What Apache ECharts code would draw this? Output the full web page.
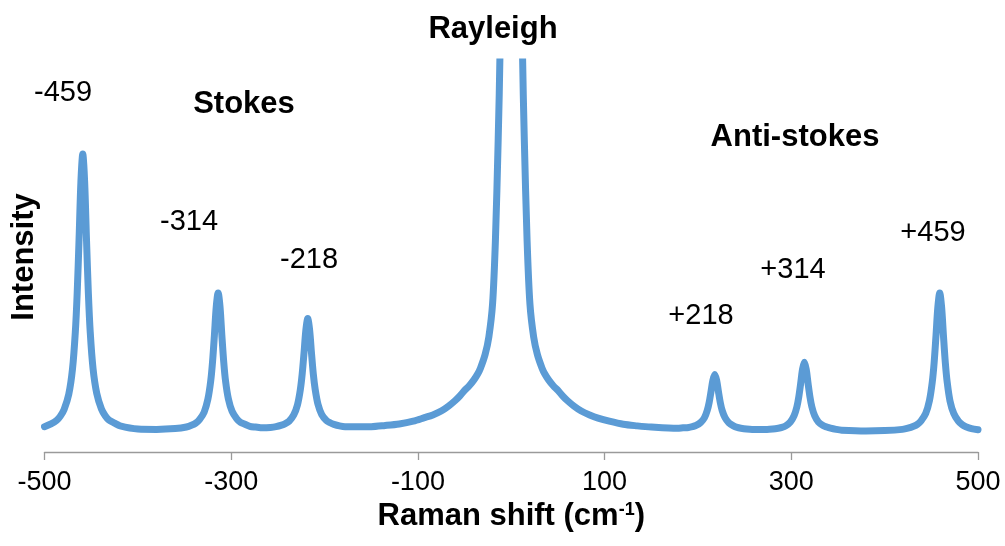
<!DOCTYPE html>
<html>
<head>
<meta charset="utf-8">
<script src="https://cdn.jsdelivr.net/npm/echarts@6/dist/echarts.min.js"></script>
<style>
  html, body { margin: 0; padding: 0; background: #fff; }
  #chart { width: 1005px; height: 546px; }
</style>
</head>
<body>
<div id="chart"></div>
<script>
// Raman spectrum samples: [shift (cm-1), intensity (arbitrary units)]
const stokesSide = [
  [-500, 6.5], [-493, 7.2], [-487, 8.1], [-483, 9.2], [-479, 10.9], [-474, 14.8], [-470, 21.3], [-467, 30.7],
  [-465, 40.7], [-463, 54.4], [-461, 69.3], [-459, 76.4], [-457, 69.3], [-455, 54.4], [-453, 40.7], [-451, 30.7],
  [-448, 21.4], [-444, 15.0], [-439, 11.0], [-435, 9.3], [-431, 8.2], [-425, 7.4], [-419, 6.7],
  [-400, 5.9], [-380, 5.8], [-360, 6.0],
  [-348, 6.4], [-342, 6.9], [-338, 7.4], [-334, 8.3], [-329, 10.2], [-325, 13.5], [-322, 18.1], [-320, 23.1],
  [-318, 29.9], [-316, 37.3], [-314, 40.8], [-312, 37.3], [-310, 29.9], [-308, 23.1], [-306, 18.1], [-303, 13.6],
  [-299, 10.4], [-294, 8.5], [-290, 7.6], [-286, 7.2], [-280, 6.6], [-274, 6.4],
  [-266, 6.2],
  [-258, 6.3], [-252, 6.5], [-246, 6.9], [-242, 7.3], [-238, 7.9], [-233, 9.5], [-229, 12.1], [-226, 15.9],
  [-224, 19.9], [-222, 25.4], [-220, 31.3], [-218, 34.2], [-216, 31.3], [-214, 25.4], [-212, 19.9], [-210, 16.0],
  [-207, 12.2], [-203, 9.6], [-198, 8.1], [-194, 7.5], [-190, 7.1], [-184, 6.7], [-178, 6.5]
];
const rayleighBand = [
  [-150, 6.5], [-135, 6.8], [-120, 7.2], [-105, 7.9], [-93, 8.8], [-84, 9.5], [-75, 10.5], [-67, 11.8],
  [-60, 13.2], [-55, 14.4], [-50, 15.8], [-45, 17.0], [-40, 18.5], [-36, 20.0], [-33, 21.5], [-28, 25.0],
  [-24, 29.5], [-20, 38.0], [-17, 54.0], [-14, 80.0], [-12, 103], [-8, 180], [-4, 300], [0, 400],
  [4, 300], [8, 180], [12, 103], [14, 80.0], [17, 54.0], [20, 38.0], [24, 29.5], [28, 25.0],
  [33, 21.5], [36, 20.0], [40, 18.5], [45, 17.0], [50, 15.8], [55, 14.4], [60, 13.2], [67, 11.8],
  [75, 10.5], [84, 9.5], [93, 8.7], [105, 7.9], [120, 7.1], [135, 6.7], [150, 6.4]
];
const antiStokesSide = [
  [178, 6.1], [184, 6.2], [190, 6.3], [194, 6.5], [198, 6.8], [203, 7.6], [207, 8.8], [210, 10.7],
  [212, 12.7], [214, 15.5], [216, 18.4], [218, 19.9], [220, 18.4], [222, 15.4], [224, 12.6], [226, 10.6],
  [229, 8.8], [233, 7.5], [238, 6.7], [242, 6.3], [246, 6.1], [252, 5.9], [258, 5.8],
  [266, 5.8],
  [274, 5.8], [280, 5.9], [286, 6.1], [290, 6.3], [294, 6.7], [299, 7.7], [303, 9.3], [306, 11.6],
  [308, 14.1], [310, 17.5], [312, 21.2], [314, 23.0], [316, 21.2], [318, 17.5], [320, 14.1], [322, 11.6],
  [325, 9.3], [329, 7.7], [334, 6.8], [338, 6.4], [342, 6.1], [348, 5.8], [354, 5.6],
  [380, 5.4], [400, 5.5],
  [419, 5.8], [425, 6.1], [431, 6.6], [435, 7.1], [439, 8.0], [444, 9.9], [448, 13.2], [451, 17.9],
  [453, 22.9], [455, 29.8], [457, 37.2], [459, 40.8], [461, 37.2], [463, 29.8], [465, 22.9], [467, 17.9],
  [470, 13.1], [474, 9.9], [479, 7.9], [483, 7.0], [487, 6.5], [493, 6.0], [500, 5.7]
];

// Tick values along the shift axis
const shiftTicks = [-500, -300, -100, 100, 300, 500];

// Peak labels and region names
const peakLabels = ['-459', '-314', '-218', '+218', '+314', '+459'];
const regionNames = ['Stokes', 'Rayleigh', 'Anti-stokes'];

const FONT = '"Liberation Sans", Arial, sans-serif';
const points = stokesSide.concat(rayleighBand, antiStokesSide);

const chart = echarts.init(document.getElementById('chart'), null, { renderer: 'canvas' });

// placement of the annotation texts (pixel centers)
const peakLabelPos = [[63, 93], [189, 222], [309, 260], [701, 316], [793, 270], [933, 233]];
const regionPos = [[244, 104], [493, 29], [795, 137]];

const graphics = [];
peakLabels.forEach((t, i) => {
  graphics.push({
    type: 'text', x: peakLabelPos[i][0], y: peakLabelPos[i][1],
    style: { text: t, font: '29px ' + FONT, fill: '#000', align: 'center', verticalAlign: 'middle' }
  });
});
regionNames.forEach((t, i) => {
  graphics.push({
    type: 'text', x: regionPos[i][0], y: regionPos[i][1],
    style: { text: t, font: 'bold 31px ' + FONT, fill: '#000', align: 'center', verticalAlign: 'middle' }
  });
});

chart.setOption({
  animation: false,
  backgroundColor: '#fff',
  grid: { left: 44.5, right: 27, top: 62, bottom: 94, containLabel: false, outerBoundsMode: 'none' },
  xAxis: {
    type: 'value',
    min: shiftTicks[0],
    max: shiftTicks[shiftTicks.length - 1],
    interval: shiftTicks[1] - shiftTicks[0],
    name: 'Raman shift (cm{sup|-1})',
    nameLocation: 'middle',
    nameGap: 47,
    nameTextStyle: {
      fontFamily: FONT, fontSize: 31, fontWeight: 'bold', color: '#000',
      rich: { sup: { fontFamily: FONT, fontSize: 18, fontWeight: 'bold', color: '#000', verticalAlign: 'top', padding: [0, 0, 12, 0] } }
    },
    axisLine: { show: true, lineStyle: { color: '#9a9a9a', width: 1.3 } },
    axisTick: { show: true, inside: false, length: 8, lineStyle: { color: '#9a9a9a', width: 1.3 } },
    axisLabel: { fontFamily: FONT, fontSize: 27, color: '#000', margin: 17 },
    splitLine: { show: false }
  },
  yAxis: {
    type: 'value',
    min: 0,
    max: 100,
    name: 'Intensity',
    nameLocation: 'middle',
    nameGap: 5,
    nameRotate: 90,
    nameTextStyle: { fontFamily: FONT, fontSize: 31, fontWeight: 'bold', color: '#000' },
    axisLine: { show: false },
    axisTick: { show: false },
    axisLabel: { show: false },
    splitLine: { show: false }
  },
  series: [{
    type: 'line',
    data: points,
    showSymbol: false,
    clip: true,
    smooth: 0.3,
    lineStyle: { color: '#5B9BD5', width: 7, cap: 'round', join: 'round' }
  }],
  graphic: graphics
});
</script>
</body>
</html>
